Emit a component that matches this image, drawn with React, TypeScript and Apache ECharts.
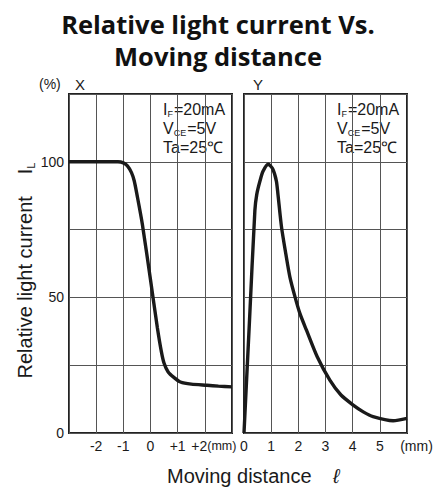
import React, { useEffect, useRef } from "react";
import * as echarts from "echarts";

// Panel X: relative light current (%) vs moving distance (mm)
const distX = [-3, -2, -1.2, -1.0, -0.85, -0.7, -0.6, -0.5, -0.3, 0, 0.25, 0.4, 0.5, 0.65, 0.86, 1.1, 1.5, 2.08, 2.5, 3];
const currentX = [100, 100, 100, 99.6, 98.5, 96, 93, 88, 77, 56.5, 39, 30, 25.7, 22.5, 20.5, 18.8, 18.0, 17.6, 17.3, 17.0];

// Panel Y
const distY = [0, 0.2, 0.4, 0.47, 0.59, 0.7, 0.89, 1.05, 1.19, 1.25, 1.38, 1.54, 1.69, 1.88, 2.06, 2.3, 2.7, 3.16, 3.57, 4.02, 4.39, 4.75, 5.49, 6];
const currentY = [0, 41, 82, 88, 93, 96.5, 99.1, 97.5, 93, 88, 76, 66, 57.5, 50.1, 44, 37.9, 28, 19.5, 14, 10.3, 7.8, 6, 4.5, 5.4];

const yShownTicks = [0, 50, 100];
const titleLines = ["Relative light current Vs.", "Moving distance"];
const conditions = ["{n|I}{s|F}{n|=20mA}", "{n|V}{s|CE}{n|=5V}", "{n|Ta=25℃}"];

const FONT = "Liberation Sans, Arial, sans-serif";
const INK = "#1a1a1a";

export default function App() {
  const ref = useRef<HTMLDivElement>(null);
  useEffect(() => {
    document.body.style.margin = "0";
    const chart = echarts.init(ref.current!, null, { renderer: "svg" });
    const gridCommon = { top: 94, height: 339, width: 163, show: true, borderColor: "#222", borderWidth: 2, containLabel: false };
    const splitLine = { show: true, lineStyle: { color: "#555", width: 1 } };
    const condRich = {
      n: { fontSize: 16, fontFamily: FONT, color: INK, lineHeight: 19 },
      s: { fontSize: 9, fontFamily: FONT, color: INK, lineHeight: 10, verticalAlign: "bottom", padding: [0, 1, 0, 0] },
    };
    const condText = conditions.join("\n");
    const titleStyle = { font: `bold 25.5px "Open Sans", sans-serif`, fill: "#111", textAlign: "center", textVerticalAlign: "middle" };
    chart.setOption({
      animation: false,
      backgroundColor: "#fff",
      grid: [
        { ...gridCommon, left: 69 },
        { ...gridCommon, left: 244 },
      ],
      xAxis: [
        {
          type: "value", gridIndex: 0, min: -3, max: 3, interval: 1,
          axisLine: { show: false }, axisTick: { show: false }, splitLine,
          axisLabel: {
            margin: 6, fontFamily: FONT, fontSize: 14, color: INK,
            formatter: (v: number) => {
              if (v === -3 || v === 3) return "";
              if (v === 2) return "{p|+2}{u|(mm)}";
              return v > 0 ? "+" + v : String(v);
            },
            rich: {
              p: { fontFamily: FONT, fontSize: 14, color: INK, padding: [0, 0, 0, 18] },
              u: { fontFamily: FONT, fontSize: 12.5, color: INK },
            },
          },
        },
        {
          type: "value", gridIndex: 1, min: 0, max: 6, interval: 1,
          axisLine: { show: false }, axisTick: { show: false }, splitLine,
          axisLabel: {
            margin: 6, fontFamily: FONT, fontSize: 14, color: INK,
            formatter: (v: number) => (v === 6 ? "{u|(mm)}" : String(v)),
            rich: { u: { fontFamily: FONT, fontSize: 14, color: INK, padding: [0, 0, 0, 19] } },
          },
        },
      ],
      yAxis: [
        {
          type: "value", gridIndex: 0, min: 0, max: 125, interval: 25,
          axisLine: { show: false }, axisTick: { show: false }, splitLine,
          axisLabel: {
            margin: 5, fontFamily: FONT, fontSize: 14, color: INK,
            formatter: (v: number) => (yShownTicks.includes(v) ? String(v) : ""),
          },
          name: "{t|Relative light current}{i|I}{s|L}",
          nameLocation: "middle",
          nameRotate: 90,
          nameGap: 33,
          nameTextStyle: {
            rich: {
              t: { fontFamily: FONT, fontSize: 20, color: INK, lineHeight: 22 },
              i: { fontFamily: FONT, fontSize: 20, color: INK, lineHeight: 22, padding: [0, 0, 0, 22] },
              s: { fontFamily: FONT, fontSize: 11, color: INK, lineHeight: 12, verticalAlign: "bottom", padding: [0, 14, 0, 0] },
            },
          },
        },
        {
          type: "value", gridIndex: 1, min: 0, max: 125, interval: 25,
          axisLine: { show: false }, axisTick: { show: false }, splitLine,
          axisLabel: { show: false },
        },
      ],
      series: [
        {
          type: "line", xAxisIndex: 0, yAxisIndex: 0,
          data: distX.map((x, i) => [x, currentX[i]]),
          smooth: 0.25, showSymbol: false,
          lineStyle: { color: INK, width: 3.4 },
        },
        {
          type: "line", xAxisIndex: 1, yAxisIndex: 1,
          data: distY.map((x, i) => [x, currentY[i]]),
          smooth: 0.25, showSymbol: false,
          lineStyle: { color: INK, width: 3.4 },
        },
      ],
      graphic: [
        { type: "text", x: 218, y: 24, style: { ...titleStyle, text: titleLines[0] } },
        { type: "text", x: 218, y: 56, style: { ...titleStyle, text: titleLines[1] } },
        { type: "text", left: 39, top: 77, style: { text: "(%)", font: `14px ${FONT}`, fill: INK } },
        { type: "text", left: 75, top: 77, style: { text: "X", font: `15px ${FONT}`, fill: INK } },
        { type: "text", left: 253, top: 77, style: { text: "Y", font: `15px ${FONT}`, fill: INK } },
        { type: "text", left: 163, top: 101, style: { text: condText, rich: condRich, fill: INK } },
        { type: "text", left: 337, top: 101, style: { text: condText, rich: condRich, fill: INK } },
        { type: "text", left: 167, top: 466, style: { text: "Moving distance", font: `20px ${FONT}`, fill: INK } },
        { type: "text", left: 333, top: 466, style: { text: "ℓ", font: `italic 20px ${FONT}`, fill: INK } },
      ],
    });
    return () => chart.dispose();
  }, []);
  return <div ref={ref} style={{ width: 436, height: 491, position: "absolute", left: 0, top: 0 }} />;
}
